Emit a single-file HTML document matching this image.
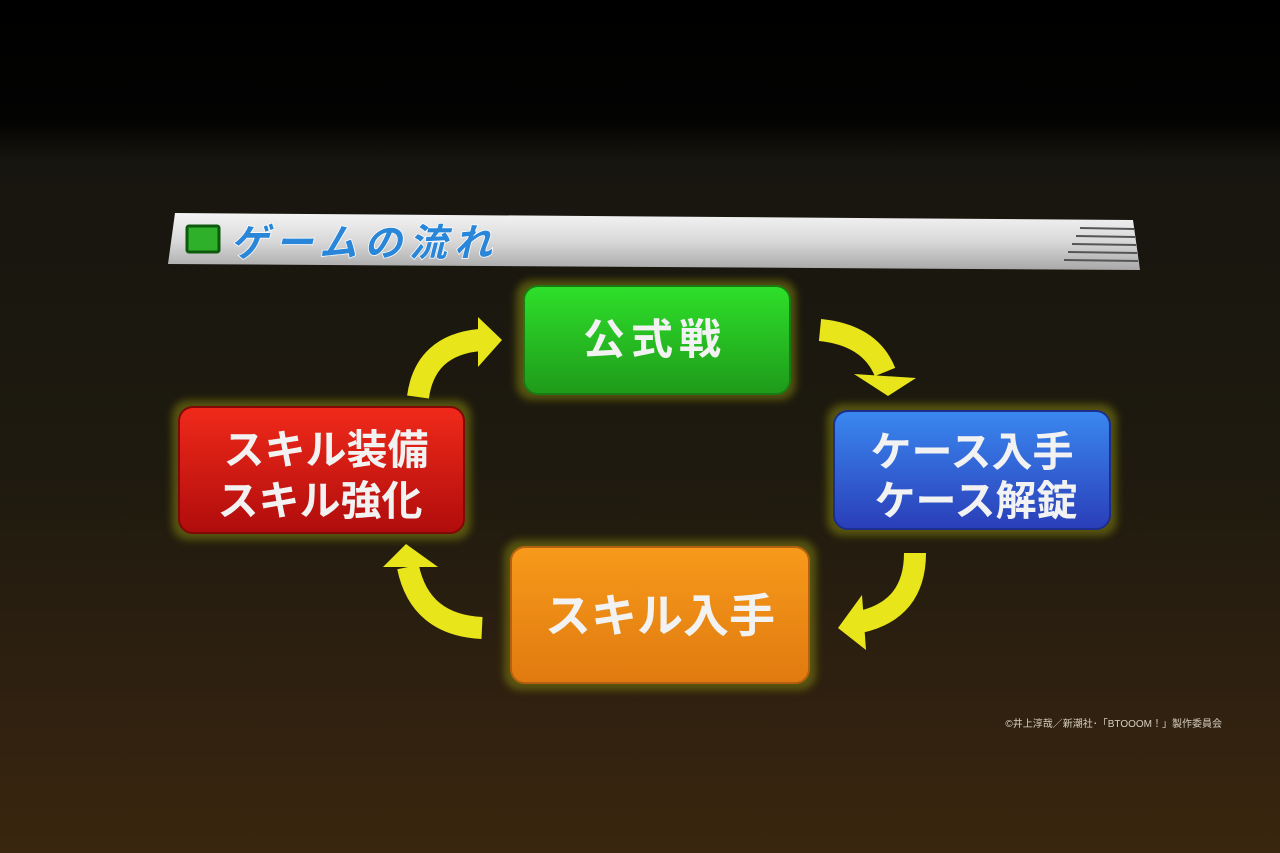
<!DOCTYPE html>
<html><head><meta charset="utf-8"><style>
html,body{margin:0;padding:0;width:1280px;height:853px;overflow:hidden;background:#000}
</style></head><body>
<svg width="1280" height="853" viewBox="0 0 1280 853" xmlns="http://www.w3.org/2000/svg" font-family="'Liberation Sans','Noto Sans CJK JP',sans-serif">
<defs>
<linearGradient id="bg" x1="0" y1="0" x2="0" y2="1">
<stop offset="0" stop-color="#000"/>
<stop offset="0.14" stop-color="#030302"/>
<stop offset="0.19" stop-color="#17150f"/>
<stop offset="0.55" stop-color="#1e1a0f"/>
<stop offset="0.8" stop-color="#2e2010"/>
<stop offset="1" stop-color="#3a260e"/>
</linearGradient>
<linearGradient id="bar" x1="0" y1="0" x2="0" y2="1">
<stop offset="0" stop-color="#f4f4f4"/><stop offset="0.5" stop-color="#d8d8d8"/><stop offset="1" stop-color="#a8a8a8"/>
</linearGradient>
<linearGradient id="g" x1="0" y1="0" x2="0" y2="1"><stop offset="0" stop-color="#2ee02a"/><stop offset="1" stop-color="#1f9a1a"/></linearGradient>
<linearGradient id="b" x1="0" y1="0" x2="0" y2="1"><stop offset="0" stop-color="#3a88f0"/><stop offset="1" stop-color="#2a3eb8"/></linearGradient>
<linearGradient id="o" x1="0" y1="0" x2="0" y2="1"><stop offset="0" stop-color="#f79a1a"/><stop offset="1" stop-color="#e07a10"/></linearGradient>
<linearGradient id="r" x1="0" y1="0" x2="0" y2="1"><stop offset="0" stop-color="#f02a1a"/><stop offset="1" stop-color="#b00c0c"/></linearGradient>
<filter id="glow"><feGaussianBlur stdDeviation="4"/></filter>
</defs>
<rect width="1280" height="853" fill="url(#bg)"/>
<polygon points="175,213 1133,220 1140,270 168,264" fill="url(#bar)"/>
<g stroke="#555" stroke-width="2">
<line x1="1080" y1="228" x2="1134" y2="229"/><line x1="1076" y1="236" x2="1135" y2="237"/>
<line x1="1072" y1="244" x2="1136" y2="245"/><line x1="1068" y1="252" x2="1137" y2="253"/>
<line x1="1064" y1="260" x2="1138" y2="261"/></g>
<rect x="187" y="226" width="32" height="26" fill="#2fb02a" stroke="#0d5a0d" stroke-width="3" rx="2"/>
<text x="230" y="256" font-size="38" font-weight="bold" font-style="italic" fill="#2a86d8" stroke="#fff" stroke-width="1.5" paint-order="stroke" letter-spacing="7">ゲームの流れ</text>
<g filter="url(#glow)" fill="#7a7a10" opacity="0.6">
<rect x="516" y="280" width="280" height="120" rx="16"/>
<rect x="827" y="404" width="290" height="132" rx="16"/>
<rect x="504" y="540" width="312" height="150" rx="16"/>
<rect x="172" y="400" width="299" height="140" rx="16"/>
</g>
<rect x="524" y="286" width="266" height="108" rx="14" fill="url(#g)" stroke="#1a7a14" stroke-width="2"/>
<rect x="834" y="411" width="276" height="118" rx="14" fill="url(#b)" stroke="#1c2e90" stroke-width="2"/>
<rect x="511" y="547" width="298" height="136" rx="14" fill="url(#o)" stroke="#b46010" stroke-width="2"/>
<rect x="179" y="407" width="285" height="126" rx="14" fill="url(#r)" stroke="#800808" stroke-width="2"/>
<g fill="#f2f2f2" font-weight="bold" text-anchor="middle">
<text x="655" y="354" font-size="42" letter-spacing="6">公式戦</text>
<text x="972" y="466" font-size="41">ケース入手</text>
<text x="976" y="515" font-size="41">ケース解錠</text>
<text x="660" y="632" font-size="46">スキル入手</text>
<text x="326" y="464" font-size="41">スキル装備</text>
<text x="320" y="515" font-size="41">スキル強化</text>
</g>
<g fill="none" stroke="#e8e61a" stroke-width="22">
<path d="M418,397 Q425,345 480,340"/>
<path d="M820,330 Q870,335 885,372"/>
<path d="M915,553 Q915,610 860,622"/>
<path d="M482,628 Q420,625 408,567"/>
</g>
<g fill="#e8e61a">
<polygon points="478,317 502,340 478,367"/>
<polygon points="854,374 916,378 888,396"/>
<polygon points="862,595 838,628 866,650"/>
<polygon points="383,567 438,567 406,544"/>
</g>
<text x="1222" y="727" text-anchor="end" font-size="10" fill="#d8d0c0">©井上淳哉／新潮社･「BTOOOM！」製作委員会</text>
</svg>
</body></html>
